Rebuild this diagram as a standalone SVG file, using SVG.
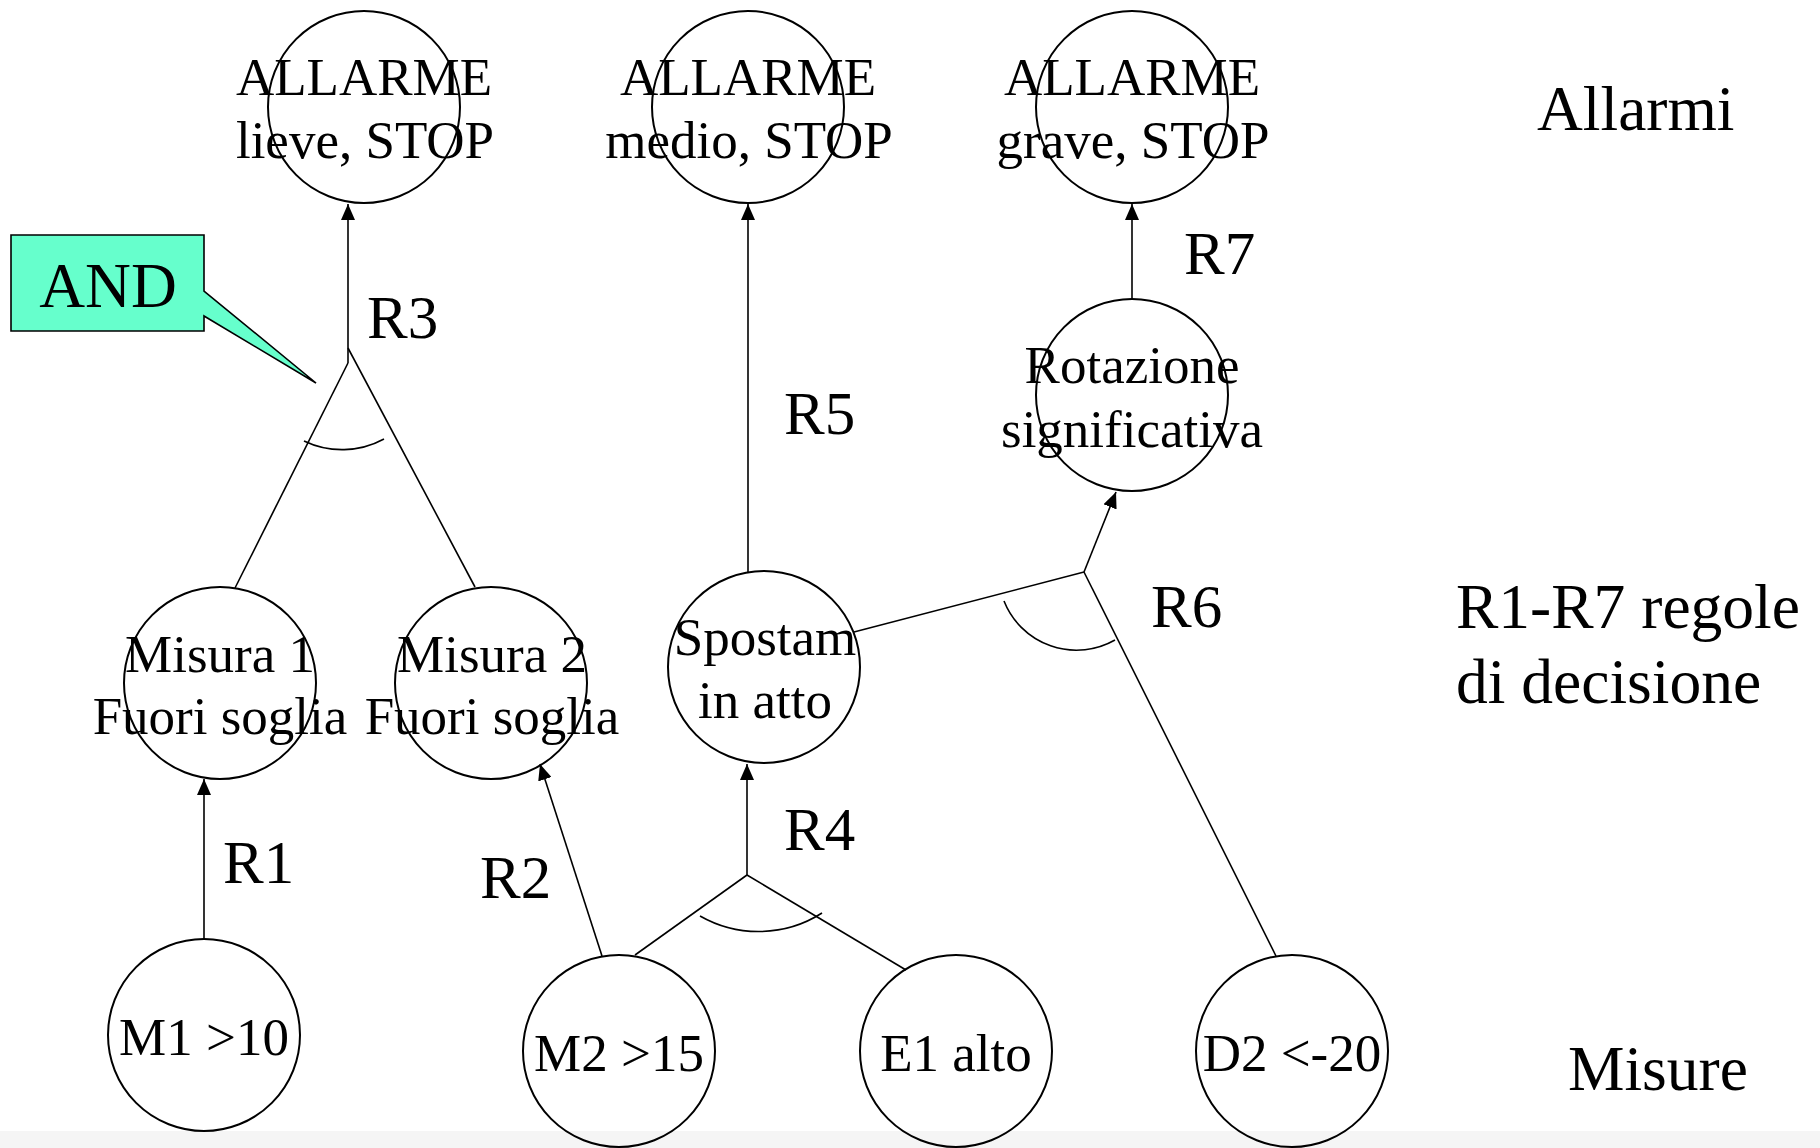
<svg xmlns="http://www.w3.org/2000/svg" width="1820" height="1148" viewBox="0 0 1820 1148">
  <style>
    .node { fill: none; stroke: #000; stroke-width: 2; }
    .t { font-family: "Liberation Serif", "Times New Roman", serif; fill: #000; }
    .nt { font-size: 53px; text-anchor: middle; }
    .lbl { font-size: 61px; }
    .side { font-size: 63.5px; }
    .edge { fill: none; stroke: #000; stroke-width: 1.6; }
    .arrow { marker-end: url(#head); }
  </style>
  <defs>
    <marker id="head" markerUnits="userSpaceOnUse" viewBox="0 0 16 14" markerWidth="16" markerHeight="14" refX="16" refY="7" orient="auto">
      <path d="M0,0 L16,7 L0,14 Z" fill="#000"/>
    </marker>
  </defs>

  <rect width="1820" height="1148" fill="#fff"/>
  <rect x="0" y="1131" width="1820" height="17" fill="#f5f5f5"/>

  <!-- connectors -->
  <g id="connectors">
    <!-- R1 -->
    <line class="edge arrow" x1="204" y1="939" x2="204" y2="779"/>
    <!-- R2 -->
    <line class="edge arrow" x1="602" y1="956" x2="540" y2="764"/>
    <!-- R3: AND of Misura 1 and Misura 2 -->
    <line class="edge" x1="235" y1="588" x2="348" y2="363"/>
    <line class="edge" x1="475" y1="587" x2="348" y2="348"/>
    <line class="edge arrow" x1="348" y1="363" x2="348" y2="204"/>
    <path class="edge" d="M304 441 A88 88 0 0 0 384 439"/>
    <!-- R4: AND of M2 and E1 -->
    <line class="edge" x1="635" y1="955" x2="747" y2="875"/>
    <line class="edge" x1="906" y1="970" x2="747" y2="875"/>
    <line class="edge arrow" x1="747" y1="875" x2="747" y2="764"/>
    <path class="edge" d="M700 916 A118 118 0 0 0 822 913"/>
    <!-- R5 -->
    <line class="edge arrow" x1="748" y1="572" x2="748" y2="204"/>
    <!-- R6: AND of Spostam and D2 -->
    <line class="edge" x1="854" y1="632" x2="1084" y2="572"/>
    <line class="edge" x1="1276" y1="956" x2="1084" y2="572"/>
    <line class="edge arrow" x1="1084" y1="572" x2="1116" y2="492"/>
    <path class="edge" d="M1004 601 A78 78 0 0 0 1115 640"/>
    <!-- R7 -->
    <line class="edge arrow" x1="1132" y1="299" x2="1132" y2="204"/>
  </g>

  <!-- alarm nodes -->
  <g id="alarm-lieve">
    <text class="t nt" x="364" y="95">ALLARME</text>
    <text class="t nt" x="365" y="158">lieve, STOP</text>
    <circle class="node" cx="364" cy="107" r="96"/>
  </g>
  <g id="alarm-medio">
    <text class="t nt" x="748" y="95">ALLARME</text>
    <text class="t nt" x="749" y="158">medio, STOP</text>
    <circle class="node" cx="748" cy="107" r="96"/>
  </g>
  <g id="alarm-grave">
    <text class="t nt" x="1132" y="95">ALLARME</text>
    <text class="t nt" x="1133" y="158">grave, STOP</text>
    <circle class="node" cx="1132" cy="107" r="96"/>
  </g>

  <!-- intermediate nodes -->
  <g id="rotazione">
    <text class="t nt" x="1132" y="383">Rotazione</text>
    <text class="t nt" x="1132" y="447">significativa</text>
    <circle class="node" cx="1132" cy="395" r="96"/>
  </g>
  <g id="misura-1">
    <text class="t nt" x="220" y="672">Misura 1</text>
    <text class="t nt" x="220" y="734">Fuori soglia</text>
    <circle class="node" cx="220" cy="683" r="96"/>
  </g>
  <g id="misura-2">
    <text class="t nt" x="492" y="672">Misura 2</text>
    <text class="t nt" x="492" y="734">Fuori soglia</text>
    <circle class="node" cx="491" cy="683" r="96"/>
  </g>
  <g id="spostam">
    <text class="t nt" x="765" y="655">Spostam</text>
    <text class="t nt" x="765" y="718">in atto</text>
    <circle class="node" cx="764" cy="667" r="96"/>
  </g>

  <!-- measurement nodes -->
  <g id="m1">
    <text class="t nt" x="204" y="1055">M1 &gt;10</text>
    <circle class="node" cx="204" cy="1035" r="96"/>
  </g>
  <g id="m2">
    <text class="t nt" x="619" y="1071">M2 &gt;15</text>
    <circle class="node" cx="619" cy="1051" r="96"/>
  </g>
  <g id="e1">
    <text class="t nt" x="956" y="1071">E1 alto</text>
    <circle class="node" cx="956" cy="1051" r="96"/>
  </g>
  <g id="d2">
    <text class="t nt" x="1292" y="1071">D2 &lt;-20</text>
    <circle class="node" cx="1292" cy="1051" r="96"/>
  </g>

  <!-- AND callout -->
  <g id="and-callout">
    <path d="M11 235 H204 V291 L316 383 L204 316 V331 H11 Z" fill="#66ffcc" stroke="#000" stroke-width="1.6" stroke-linejoin="miter"/>
    <text class="t side" x="108" y="307" text-anchor="middle">AND</text>
  </g>

  <!-- rule labels -->
  <g id="rule-labels">
    <text class="t lbl" x="367" y="338">R3</text>
    <text class="t lbl" x="784" y="434">R5</text>
    <text class="t lbl" x="1184" y="274">R7</text>
    <text class="t lbl" x="1151" y="627">R6</text>
    <text class="t lbl" x="784" y="850">R4</text>
    <text class="t lbl" x="223" y="883">R1</text>
    <text class="t lbl" x="480" y="898">R2</text>
  </g>

  <!-- level captions -->
  <g id="captions">
    <text class="t side" x="1537" y="130">Allarmi</text>
    <text class="t side" x="1456" y="628">R1-R7 regole</text>
    <text class="t side" x="1456" y="703">di decisione</text>
    <text class="t side" x="1568" y="1090">Misure</text>
  </g>
</svg>
